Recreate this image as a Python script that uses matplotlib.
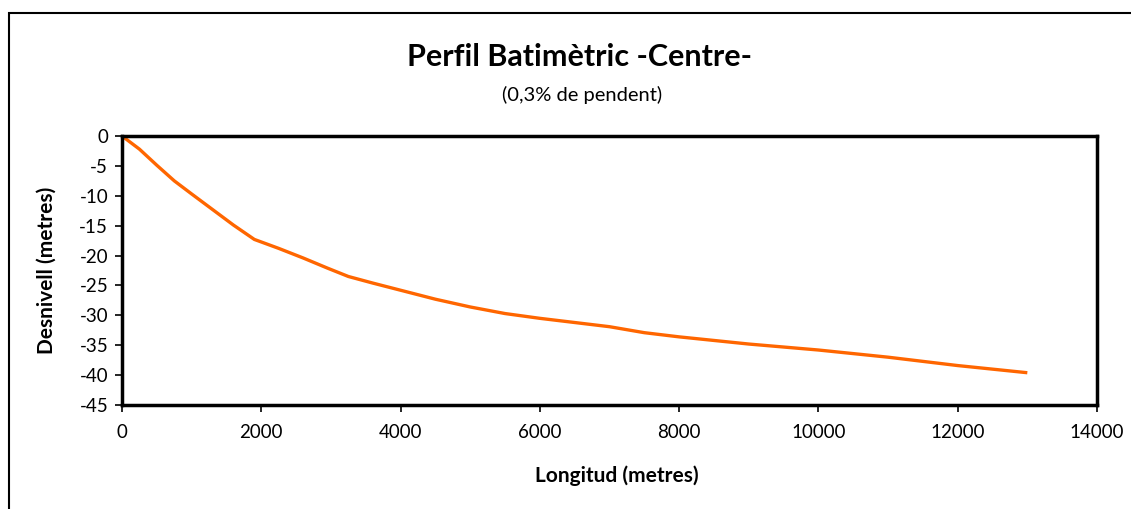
import matplotlib.pyplot as plt
from matplotlib.patches import Rectangle

# dades del perfil (llegides del gràfic)
longitud = [0, 250, 500, 750, 1000, 1300, 1600, 1900, 2250, 2600, 2950,
            3250, 3600, 4000, 4500, 5000, 5500, 6000, 6500, 7000, 7500,
            8000, 8500, 9000, 9500, 10000, 10500, 11000, 11500, 12000, 12500, 13000]
desnivell = [0, -2.2, -4.9, -7.5, -9.7, -12.3, -14.9, -17.3, -18.8, -20.4, -22.1,
             -23.5, -24.6, -25.8, -27.3, -28.6, -29.7, -30.5, -31.2, -31.9, -32.9,
             -33.6, -34.2, -34.8, -35.3, -35.8, -36.4, -37.0, -37.7, -38.4, -39.0, -39.6]

xticks = list(range(0, 14001, 2000))
yticks = list(range(-45, 1, 5))

plt.rcParams['font.family'] = ['Lato', 'DejaVu Sans']
plt.rcParams['axes.unicode_minus'] = False

fig = plt.figure(figsize=(11.31, 5.09), dpi=100)
ax = fig.add_axes([0.1079, 0.2043, 0.862, 0.5285])

ax.plot(longitud, desnivell, color='#ff6600', lw=2.4, solid_capstyle='butt')

ax.set_xlim(0, 14000)
ax.set_ylim(-45, 0)
ax.set_xticks(xticks)
ax.set_yticks(yticks)
ax.tick_params(labelsize=13.5, width=1.2, length=5, direction='out', pad=5)
ax.tick_params(axis='x', pad=9)
for s in ax.spines.values():
    s.set_linewidth(2.5)

fig.text(0.5455, 0.0648, 'Longitud (metres)', fontsize=15, fontweight='bold',
         ha='center', va='center')
fig.text(0.0416, 0.4695, 'Desnivell (metres)', fontsize=15, fontweight='bold',
         ha='center', va='center', rotation=90)

fig.text(0.5128, 0.888, 'Perfil Batimètric -Centre-', fontsize=22, fontweight='bold',
         ha='center', va='center')
fig.text(0.515, 0.813, '(0,3% de pendent)', fontsize=14.5, ha='center', va='center')

# marc exterior del gràfic
fig.patches.append(Rectangle((9 / 1131, -0.05), 1.0, 0.05 + 1 - 13 / 509,
                             transform=fig.transFigure, fill=False,
                             edgecolor='black', lw=1.5))

fig.savefig('out.png', dpi=100)
